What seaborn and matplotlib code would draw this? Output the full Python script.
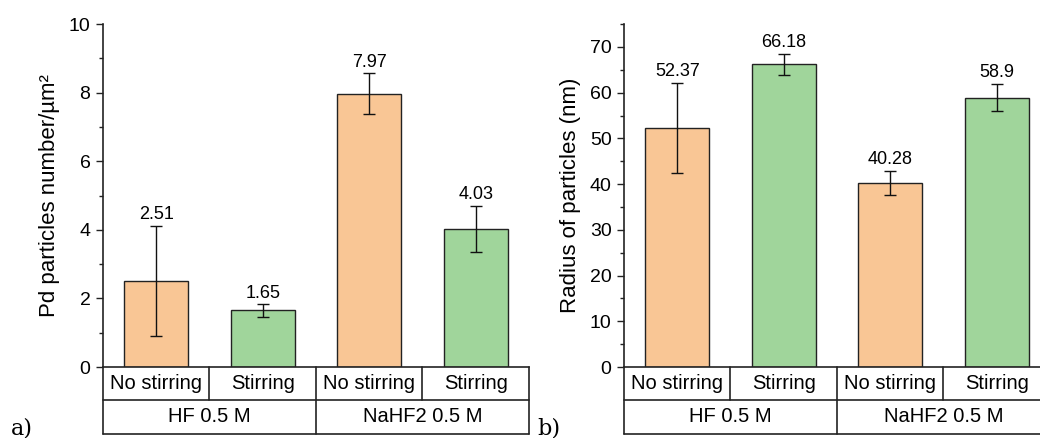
import pandas as pd
import matplotlib
import matplotlib.pyplot as plt
import seaborn as sns
from matplotlib.ticker import MultipleLocator

matplotlib.use('Agg')

# data
conditions = ['HF 0.5 M', 'HF 0.5 M', 'NaHF2 0.5 M', 'NaHF2 0.5 M']
stirring = ['No stirring', 'Stirring', 'No stirring', 'Stirring']
density = [2.51, 1.65, 7.97, 4.03]
density_err = [1.61, 0.18, 0.59, 0.67]
radius = [52.37, 66.18, 40.28, 58.9]
radius_err = [9.85, 2.3, 2.7, 3.0]
groups = ['HF 0.5 M', 'NaHF2 0.5 M']

colors = {'No stirring': '#F9C695', 'Stirring': '#A0D59B'}

sns.set_theme(style="ticks")
plt.rcParams['font.family'] = ['Liberation Sans', 'DejaVu Sans']
plt.rcParams['text.color'] = 'black'
plt.rcParams['axes.labelcolor'] = 'black'
plt.rcParams['ytick.labelcolor'] = 'black'

fig = plt.figure(figsize=(10.4, 4.38), dpi=100)
ax1 = fig.add_axes([0.099, 0.162, 0.4096, 0.783])
ax2 = fig.add_axes([0.600, 0.162, 0.4096, 0.783])


def draw(ax, vals, errs, ylabel, ymax, major, minor):
    df = pd.DataFrame({'pos': [str(i) for i in range(len(vals))],
                       'stir': stirring, 'val': vals})
    sns.barplot(data=df, x='pos', y='val', hue='stir', palette=colors,
                dodge=False, width=0.6, edgecolor='#222222', linewidth=1.0,
                saturation=1, legend=False, ax=ax, errorbar=None)
    ax.errorbar(range(len(vals)), vals, yerr=errs, fmt='none',
                ecolor='#111111', elinewidth=1.0, capsize=4, capthick=1.0)
    for i, (v, e) in enumerate(zip(vals, errs)):
        ax.annotate(f'{v:g}', (i, v + e), xytext=(0, 2), textcoords='offset points',
                    ha='center', va='bottom', fontsize=13)
    ax.set_xlim(-0.5, 3.5)
    ax.set_ylim(0, ymax)
    ax.yaxis.set_major_locator(MultipleLocator(major))
    ax.yaxis.set_minor_locator(MultipleLocator(minor))
    ax.tick_params(axis='y', which='major', length=5, width=1, labelsize=14,
                   pad=4, color='#222222')
    ax.tick_params(axis='y', which='minor', length=3, width=1, color='#222222')
    ax.set_xticks([])
    ax.set_xlabel('')
    ax.set_ylabel(ylabel, fontsize=16, labelpad=6)
    sns.despine(ax=ax)
    for s in ['left', 'bottom']:
        ax.spines[s].set_color('#222222')
        ax.spines[s].set_linewidth(1.2)

    # category table under the axis
    tr = ax.get_xaxis_transform()
    r1, r2 = -0.0962, -0.195
    kw = dict(color='#222222', lw=1.2, transform=tr, clip_on=False)
    ax.plot([-0.5, 3.5], [r1, r1], **kw)
    ax.plot([-0.5, 3.5], [r2, r2], **kw)
    for x in [-0.5, 1.5, 3.5]:
        ax.plot([x, x], [0, r2], **kw)
    for x in [0.5, 2.5]:
        ax.plot([x, x], [0, r1], **kw)
    for i, s in enumerate(stirring):
        ax.text(i, r1 / 2, s, transform=tr, ha='center', va='center',
                fontsize=14.5, clip_on=False)
    for j, g in enumerate(groups):
        ax.text(2 * j + 0.5, (r1 + r2) / 2, g, transform=tr, ha='center',
                va='center', fontsize=14.5, clip_on=False)


draw(ax1, density, density_err, 'Pd particles number/µm²', 10, 2, 1)
draw(ax2, radius, radius_err, 'Radius of particles (nm)', 75, 10, 5)

fig.text(0.010, 0.008, 'a)', fontsize=16, family=['DejaVu Serif'])
fig.text(0.517, 0.008, 'b)', fontsize=16, family=['DejaVu Serif'])

fig.savefig('out.png', dpi=100)
